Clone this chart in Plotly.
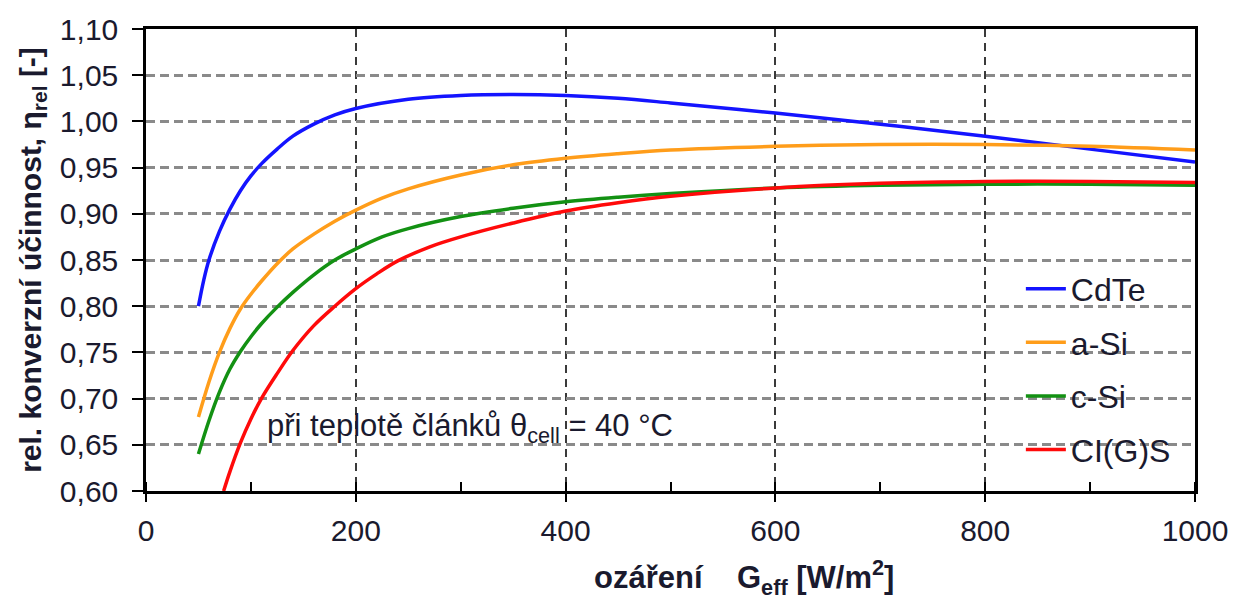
import plotly.graph_objects as go

# Irradiance (W/m2) and relative conversion efficiency per technology
g_cdte = [50, 55, 60, 70, 80, 90, 100, 110, 125, 140, 160, 180, 200, 250, 300, 350, 400, 450, 500,
          600, 700, 800, 900, 1000]
eta_cdte = [0.800, 0.828, 0.850, 0.881, 0.905, 0.925, 0.941, 0.954, 0.970, 0.984, 0.997, 1.007, 1.014,
            1.024, 1.028, 1.029, 1.028, 1.025, 1.020, 1.009, 0.997, 0.984, 0.970, 0.956]

g_asi = [50, 60, 70, 80, 90, 100, 110, 125, 140, 160, 180, 200, 225, 250, 300, 350, 400, 450, 500,
         600, 700, 800, 900, 1000]
eta_asi = [0.680, 0.718, 0.750, 0.776, 0.797, 0.813, 0.827, 0.846, 0.862, 0.878, 0.892, 0.904, 0.917,
           0.927, 0.942, 0.953, 0.960, 0.965, 0.969, 0.973, 0.975, 0.975, 0.973, 0.969]

g_csi = [50, 60, 70, 80, 90, 100, 110, 125, 140, 160, 180, 200, 225, 250, 300, 350, 400, 450, 500,
         600, 700, 800, 900, 1000]
eta_csi = [0.640, 0.676, 0.707, 0.732, 0.751, 0.767, 0.781, 0.799, 0.815, 0.834, 0.850, 0.862, 0.875,
           0.884, 0.897, 0.906, 0.913, 0.918, 0.922, 0.928, 0.931, 0.932, 0.932, 0.931]

g_cigs = [74, 80, 90, 100, 110, 125, 140, 160, 180, 200, 220, 240, 270, 300, 350, 400, 450, 500,
          600, 700, 800, 900, 1000]
eta_cigs = [0.600, 0.621, 0.652, 0.678, 0.700, 0.727, 0.752, 0.779, 0.800, 0.819, 0.835, 0.849, 0.864,
            0.875, 0.890, 0.903, 0.912, 0.919, 0.928, 0.933, 0.935, 0.935, 0.934]

series = [
    ("CdTe", g_cdte, eta_cdte, "#1414ff"),
    ("a-Si", g_asi, eta_asi, "#ff9d1a"),
    ("c-Si", g_csi, eta_csi, "#139113"),
    ("CI(G)S", g_cigs, eta_cigs, "#ff0a0a"),
]

x_ticks = [0, 200, 400, 600, 800, 1000]
y_ticks = [0.60, 0.65, 0.70, 0.75, 0.80, 0.85, 0.90, 0.95, 1.00, 1.05, 1.10]

FONT = "Liberation Sans, Arial, sans-serif"
INK = "#1a1a2e"

fig = go.Figure()
for name, gx, gy, color in series:
    fig.add_trace(go.Scatter(
        x=gx, y=gy, name=name, mode="lines", legendgroup=name,
        line=dict(color=color, width=3.5, shape="spline", smoothing=1.0),
    ))

# condition note inside the plot
fig.add_annotation(
    x=113, y=0.668, xref="x", yref="y", xanchor="left", yanchor="middle",
    text="při teplotě článků θ<sub>cell</sub> = 40 °C", showarrow=False,
    font=dict(family=FONT, size=31, color=INK),
)

# x-axis caption, set right of centre
fig.add_annotation(
    x=0.570, y=-0.188, xref="paper", yref="paper", xanchor="center", yanchor="middle",
    text="<b>ozáření    G<sub>eff</sub> [W/m<sup>2</sup>]</b>", showarrow=False,
    font=dict(family=FONT, size=31, color=INK),
)

fig.update_layout(
    width=1240, height=603,
    margin=dict(l=146, r=41, t=20, b=112),
    paper_bgcolor="white", plot_bgcolor="white",
    separators=", ",
    font=dict(family=FONT, size=30, color=INK),
    showlegend=True,
    legend=dict(
        x=0.834, y=0.497, xanchor="left", yanchor="top",
        font=dict(family=FONT, size=32, color=INK),
        bgcolor="rgba(0,0,0,0)", tracegroupgap=9, itemwidth=40,
    ),
    xaxis=dict(
        range=[0, 1000], tickvals=x_ticks, tickformat="d",
        showgrid=True, gridcolor="#3a3a3a", gridwidth=1.5, griddash="8px,6px",
        showline=True, linecolor="black", linewidth=2.5, mirror=True,
        ticks="outside", ticklen=8, tickwidth=2, tickcolor="black",
        minor=dict(dtick=100, ticks="inside", ticklen=9, tickwidth=1.5, tickcolor="black", showgrid=False),
        zeroline=False, ticklabelstandoff=3,
        tickfont=dict(size=30),
    ),
    yaxis=dict(
        range=[0.60, 1.10], tickvals=y_ticks, tickformat=".2f",
        showgrid=True, gridcolor="#8a8a8a", gridwidth=2.5, griddash="9px,5px",
        showline=True, linecolor="black", linewidth=2.5, mirror=True,
        ticks="outside", ticklen=11, tickwidth=2, tickcolor="black",
        zeroline=False, ticklabelstandoff=8,
        tickfont=dict(size=30),
        title=dict(text="<b>rel. konverzní účinnost, η<sub>rel</sub> [-]</b>", font=dict(size=30), standoff=10),
    ),
)

fig.write_html("out.html")
